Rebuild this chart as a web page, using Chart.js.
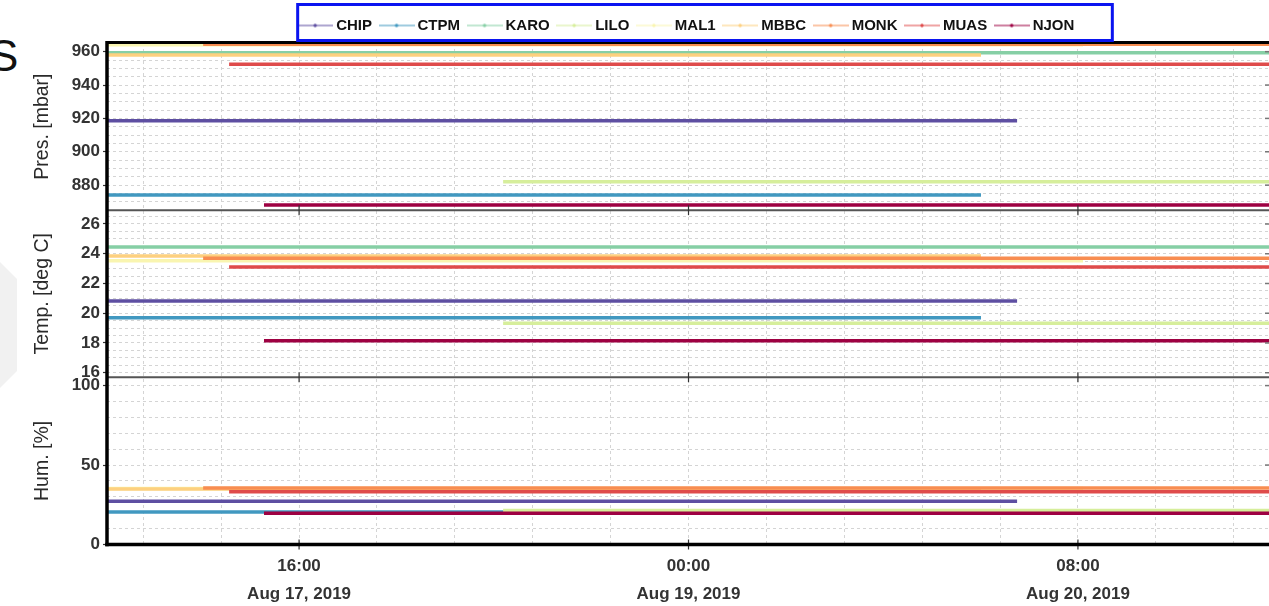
<!DOCTYPE html>
<html>
<head>
<meta charset="utf-8">
<script src="https://cdn.jsdelivr.net/npm/chart.js@4.4.1/dist/chart.umd.min.js"></script>
<style>
  html, body { margin: 0; padding: 0; background: #fff; overflow: hidden; width: 1269px; height: 606px; }
  #hex { position: absolute; left: 0; top: 0; }
  #heading { position: absolute; left: -11px; top: 34px; font: 44px/1 "Liberation Sans", Arial, sans-serif; color: #111; }
  #wrap { position: absolute; left: 0; top: 0; width: 1269px; height: 606px; }
</style>
</head>
<body>
<svg id="hex" width="40" height="606"><polygon points="-30,262 0,262 17,279 17,371 0,388 -30,388" fill="#f1f1f1"/></svg>
<div id="heading">S</div>
<div id="wrap"><canvas id="c" width="1269" height="606"></canvas></div>
<script>
// Weather stations and their series colours
const stations = ['CHIP', 'CTPM', 'KARO', 'LILO', 'MAL1', 'MBBC', 'MONK', 'MUAS', 'NJON'];
const stationColors = ['#5e4fa2', '#4198c0', '#86cfa5', '#d6ee9b', '#f9f5b0', '#fdd07f', '#f88d51', '#df4b4b', '#9e0142'];

// Reporting window of every station (UTC)
const startTimes = ['2019-08-17T00:13', '2019-08-17T00:13', '2019-08-17T00:13', '2019-08-18T08:46', '2019-08-17T00:13',
                    '2019-08-17T00:13', '2019-08-17T08:07', '2019-08-17T10:15', '2019-08-17T13:07'];
const endTimes   = ['2019-08-20T03:00', '2019-08-20T00:02', '2019-08-21T00:00', '2019-08-21T00:00', '2019-08-20T08:25',
                    '2019-08-20T00:02', '2019-08-21T00:00', '2019-08-21T00:00', '2019-08-21T00:00'];

// Readings per station
const pressure    = [918.6, 874.1, 959.4, 882.1, 964.2, 958.0, 964.4, 952.4, 868.1];   // mbar
const temperature = [20.82, 19.70, 24.45, 19.32, 23.53, 23.85, 23.69, 23.11, 18.15];   // deg C
const humidity    = [27.2, 20.4, null, 21.4, 35.2, 34.9, 35.5, 33.2, 19.6];            // %

// Time axis
const axisStart = '2019-08-17T00:13';
const axisEnd = '2019-08-20T23:42';
const tickOrigin = '2019-08-17T16:00';
const gridStepHours = 6.4;
const labelStepHours = 32;
const monthNames = ['Jan', 'Feb', 'Mar', 'Apr', 'May', 'Jun', 'Jul', 'Aug', 'Sep', 'Oct', 'Nov', 'Dec'];

// Value axes: [min, max, grid step, labelled step]
const pressureAxis = [865, 965.2, 5, 20];
const temperatureAxis = [15.69, 26.93, 0.5, 2];
const humidityAxis = [0, 105.2, 10, 50];

const FAMILY = '"Liberation Sans", Arial, sans-serif';
const originMs = Date.parse(tickOrigin + ':00Z');
const toHours = s => (Date.parse(s + ':00Z') - originMs) / 36e5;
const isMultiple = (v, m) => Math.abs(v / m - Math.round(v / m)) < 1e-6;

function timeLabel(h) {
  const d = new Date(originMs + h * 36e5);
  const hh = String(d.getUTCHours()).padStart(2, '0');
  const mm = String(d.getUTCMinutes()).padStart(2, '0');
  return [hh + ':' + mm, monthNames[d.getUTCMonth()] + ' ' + d.getUTCDate() + ', ' + d.getUTCFullYear()];
}

// Legend sample: thin line with a small dot
function legendMarker(color) {
  const c = document.createElement('canvas');
  c.width = 36; c.height = 8;
  const g = c.getContext('2d');
  g.strokeStyle = color; g.lineWidth = 1.2;
  g.beginPath(); g.moveTo(0, 4); g.lineTo(36, 4); g.stroke();
  g.fillStyle = color;
  g.beginPath(); g.arc(18, 4, 1.7, 0, Math.PI * 2); g.fill();
  return c;
}
const markers = stationColors.map(legendMarker);

const panels = [
  { id: 'yP', values: pressure },
  { id: 'yT', values: temperature },
  { id: 'yH', values: humidity }
];

const datasets = [];
panels.forEach(p => {
  stations.forEach((name, i) => {
    const v = p.values[i];
    if (v === null) return;
    datasets.push({
      label: name,
      yAxisID: p.id,
      xAxisID: 'x',
      data: [{ x: toHours(startTimes[i]), y: v }, { x: toHours(endTimes[i]), y: v }],
      borderColor: stationColors[i],
      backgroundColor: stationColors[i],
      borderWidth: 3.5,
      pointRadius: 0,
      pointHoverRadius: 0,
      pointStyle: markers[i],
      order: 100 - i
    });
  });
});

const tickFont = { family: FAMILY, size: 17, weight: 'bold' };
const titleFont = { family: FAMILY, size: 19.5, weight: 'normal' };

function valueAxis(spec, title) {
  const [min, max, minor, major] = spec;
  return {
    type: 'linear',
    position: 'left',
    stack: 'panels',
    stackWeight: 1,
    min, max,
    afterFit: s => { s.width = 107; },
    ticks: {
      stepSize: minor,
      includeBounds: false,
      autoSkip: false,
      padding: 3,
      color: '#333',
      font: tickFont,
      callback: v => isMultiple(v, major) ? String(Math.round(v)) : ''
    },
    grid: {
      color: '#d4d4d4',
      lineWidth: 1,
      tickLength: 4,
      tickWidth: 1.2,
      borderDash: [3, 3],
      tickColor: ctx => (ctx.tick && isMultiple(ctx.tick.value, major)) ? '#333' : 'rgba(0,0,0,0)'
    },
    border: { display: false, dash: [3, 3] },
    title: { display: true, text: title, color: '#2a2a2a', font: titleFont, padding: { top: 31, bottom: 0 } }
  };
}

// Panel separators, time ticks at each panel edge and the heavy frame
const panelFrame = {
  id: 'panelFrame',
  afterDatasetsDraw(chart) {
    const { ctx, chartArea: a, scales } = chart;
    const ys = ['yP', 'yT', 'yH'].map(id => scales[id]);
    const xs = scales.x;
    const seg = (x1, y1, x2, y2) => { ctx.beginPath(); ctx.moveTo(x1, y1); ctx.lineTo(x2, y2); ctx.stroke(); };
    ctx.save();
    ctx.strokeStyle = '#555'; ctx.lineWidth = 2;
    ys.slice(0, -1).forEach(s => seg(a.left, s.bottom, a.right, s.bottom));
    ctx.strokeStyle = '#777'; ctx.lineWidth = 1.5;
    ys.forEach(s => s.ticks.forEach(t => {
      if (t.label === '') return;
      const y = s.getPixelForValue(t.value);
      seg(a.right - 4, y, a.right, y);
    }));
    ctx.strokeStyle = '#333'; ctx.lineWidth = 1.2;
    xs.ticks.forEach(t => {
      if (!isMultiple(t.value, labelStepHours)) return;
      const x = xs.getPixelForValue(t.value);
      ys.forEach(s => seg(x, s.bottom - 5, x, s.bottom + 5));
    });
    ctx.strokeStyle = '#000';
    ctx.lineWidth = 3; seg(a.left, a.top - 0.5, a.right, a.top - 0.5);
    ctx.lineWidth = 3.5;
    seg(a.left, a.top - 2, a.left, a.bottom + 1.75);
    seg(a.left - 1.75, a.bottom, a.right, a.bottom);
    ctx.restore();
  }
};

// Blue outline round the legend row
const legendFrame = {
  id: 'legendFrame',
  afterDraw(chart) {
    const lg = chart.legend;
    if (!lg || !lg.legendHitBoxes || !lg.legendHitBoxes.length) return;
    const boxes = lg.legendHitBoxes;
    const last = boxes[boxes.length - 1];
    const left = boxes[0].left - 4;
    const right = last.left + last.width + 38;
    const ctx = chart.ctx;
    ctx.save();
    ctx.strokeStyle = '#0a14f0'; ctx.lineWidth = 3;
    ctx.strokeRect(left, lg.top - 2.5, right - left, lg.bottom - lg.top);
    ctx.restore();
  }
};

new Chart(document.getElementById('c'), {
  type: 'line',
  data: { datasets },
  plugins: [panelFrame, legendFrame],
  options: {
    responsive: false,
    animation: false,
    events: [],
    layout: { padding: { top: 7, left: 0, right: 0, bottom: 0 } },
    plugins: {
      tooltip: { enabled: false },
      legend: {
        position: 'top',
        align: 'center',
        fullSize: false,
        labels: {
          usePointStyle: true,
          pointStyleWidth: 27,
          padding: 11,
          color: '#111',
          font: { family: FAMILY, size: 15, weight: 'bold' },
          filter: item => item.datasetIndex < stations.length,
          sort: (a, b) => a.datasetIndex - b.datasetIndex
        }
      }
    },
    scales: {
      x: {
        type: 'linear',
        position: 'bottom',
        min: toHours(axisStart),
        max: toHours(axisEnd),
        afterFit: s => { s.height = 61.5; },
        ticks: {
          stepSize: gridStepHours,
          includeBounds: false,
          autoSkip: false,
          maxRotation: 0,
          minRotation: 0,
          padding: 8,
          color: '#333',
          font: { family: FAMILY, size: 17, weight: 'bold', lineHeight: 1.65 },
          callback: v => isMultiple(v, labelStepHours) ? timeLabel(v) : ''
        },
        grid: { color: '#d4d4d4', lineWidth: 1, drawTicks: false, borderDash: [3, 3] },
        border: { display: false, dash: [3, 3] }
      },
      // stacked panels are laid out bottom-up from the first listed
      yH: valueAxis(humidityAxis, 'Hum. [%]'),
      yT: valueAxis(temperatureAxis, 'Temp. [deg C]'),
      yP: valueAxis(pressureAxis, 'Pres. [mbar]')
    }
  }
});
</script>
</body>
</html>
